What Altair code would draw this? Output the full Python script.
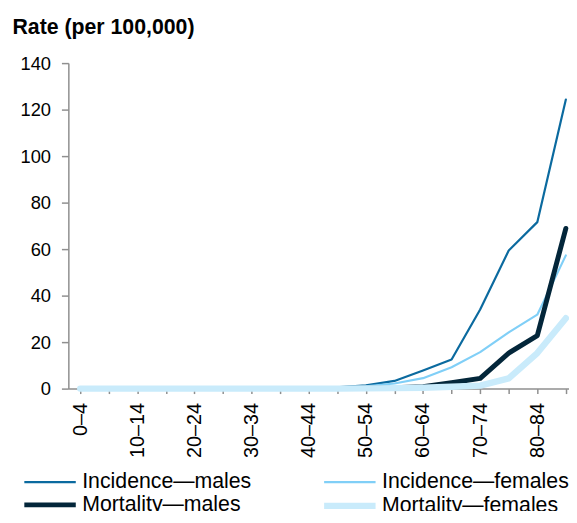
import altair as alt
import pandas as pd

age_groups = ["0–4", "5–9", "10–14", "15–19", "20–24", "25–29", "30–34", "35–39",
              "40–44", "45–49", "50–54", "55–59", "60–64", "65–69", "70–74", "75–79",
              "80–84", "85+"]
series_names = ["Incidence—males", "Incidence—females", "Mortality—males", "Mortality—females"]
incidence_males = [0.3, 0.2, 0.1, 0.1, 0.1, 0.1, 0.1, 0.2, 0.3, 0.6, 1.4, 3.3, 7.8, 12.5, 34.0, 59.4, 71.6, 124.3]
incidence_females = [0.3, 0.2, 0.1, 0.1, 0.1, 0.1, 0.1, 0.2, 0.3, 0.5, 1.0, 2.2, 4.5, 9.2, 15.7, 24.2, 31.8, 57.3]
mortality_males = [0.0, 0.0, 0.0, 0.0, 0.0, 0.0, 0.0, 0.0, 0.0, 0.1, 0.2, 0.4, 0.8, 2.5, 4.4, 15.3, 22.8, 68.9]
mortality_females = [0.0, 0.0, 0.0, 0.0, 0.0, 0.0, 0.0, 0.0, 0.0, 0.0, 0.1, 0.2, 0.4, 0.8, 1.3, 4.4, 15.3, 30.3]
colors = ["#0B6A9F", "#80CFF7", "#03263A", "#C9EBFB"]
widths = [2.2, 2.2, 5.0, 6.5]

rows = []
for name, vals in zip(series_names, [incidence_males, incidence_females, mortality_males, mortality_females]):
    for i, (g, v) in enumerate(zip(age_groups, vals)):
        rows.append({"series": name, "idx": i, "age": g, "rate": v})
df = pd.DataFrame(rows)

label_js = "[" + ",".join("'" + a + "'" for a in age_groups) + "]"
label_expr = f"datum.value % 2 == 0 ? {label_js}[datum.value] : ''"

FONT = "Liberation Sans"
AXIS_GRAY = "#8f8f8f"

chart = alt.Chart(df).mark_line(strokeCap="round", strokeJoin="round").encode(
    x=alt.X("idx:Q",
            scale=alt.Scale(domain=[-0.416, 17.11], nice=False, zero=False),
            axis=alt.Axis(values=list(range(18)), labelExpr=label_expr, title=None,
                          labelAngle=-90, labelAlign="right", labelBaseline="middle",
                          labelFontSize=20, labelPadding=9, tickSize=5,
                          grid=False, labelOverlap=False)),
    y=alt.Y("rate:Q",
            scale=alt.Scale(domain=[0, 140], nice=False),
            axis=alt.Axis(values=list(range(0, 141, 20)), title="Rate (per 100,000)",
                          titleAngle=0, titleAlign="left", titleBaseline="alphabetic",
                          titleX=-57, titleY=-30, titleFontSize=21.5, titleFontWeight="bold",
                          titleColor="#000000",
                          labelFontSize=18.5, labelPadding=11, tickSize=7, grid=False)),
    color=alt.Color("series:N", scale=alt.Scale(domain=series_names, range=colors),
                    legend=alt.Legend(title=None, orient="none", legendX=-32, legendY=412,
                                      columns=2, direction="horizontal",
                                      symbolType="M-2.6,0L2.6,0", symbolSize=400,
                                      labelFontSize=21.5, labelOffset=19, labelLimit=400,
                                      columnPadding=60, rowPadding=-1, padding=0,
                                      labelColor="#000000", labelFont=FONT)),
    strokeWidth=alt.StrokeWidth("series:N",
                                scale=alt.Scale(type="ordinal", domain=series_names, range=widths),
                                legend=None),
    detail="series:N",
    order="idx:Q",
).properties(
    width=506, height=329,
    autosize=alt.AutoSizeParams(type="none"),
    padding={"left": 61, "top": 53, "right": 0, "bottom": 121},
).configure_view(stroke=None).configure_axis(
    domainColor=AXIS_GRAY, tickColor=AXIS_GRAY, domainWidth=1.5, tickWidth=1.5,
    labelColor="#000000", labelFont=FONT, titleFont=FONT,
)

chart.save("out.html", embed_options={"renderer": "svg", "actions": False})
